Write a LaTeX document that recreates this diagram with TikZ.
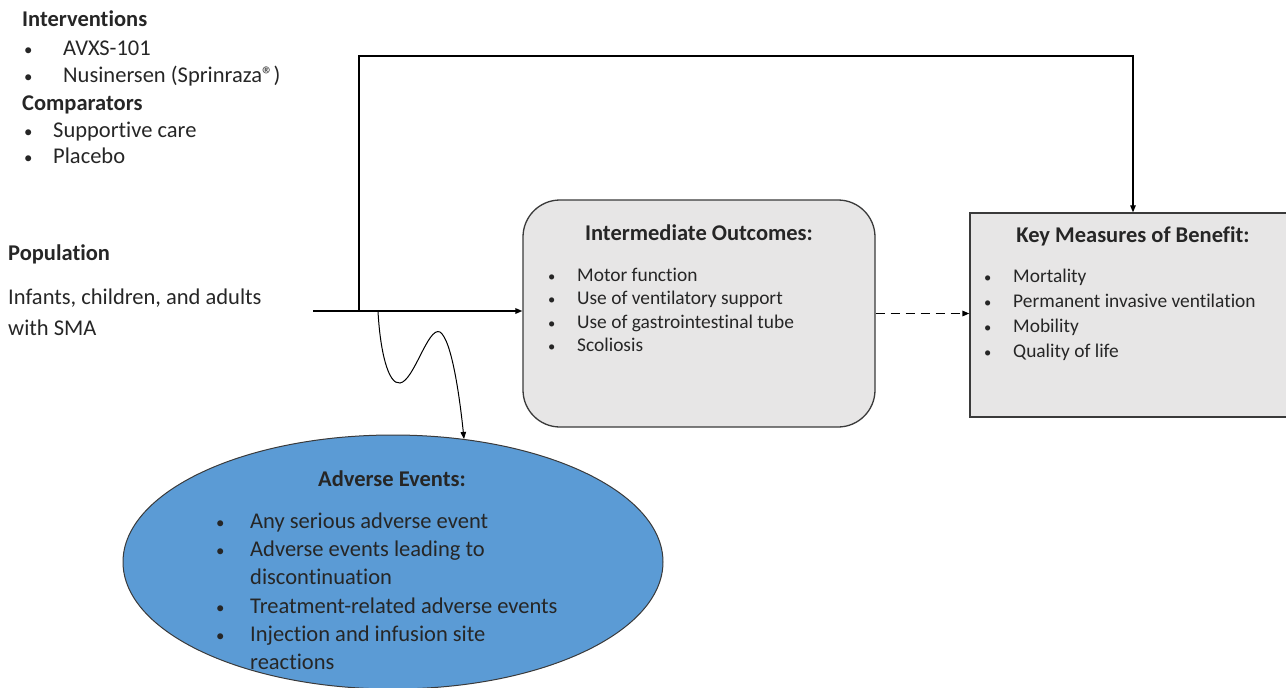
\documentclass[tikz,border=0pt]{standalone}
\usepackage{fontspec}
\setmainfont{Carlito}[Ligatures=NoCommon]
\usetikzlibrary{arrows.meta,shapes.geometric}
\definecolor{smaInk}{HTML}{262626}
\definecolor{smaEdge}{HTML}{3A3A3A}
\definecolor{smaGrey}{HTML}{E7E6E6}
\definecolor{smaBlue}{HTML}{5B9BD5}
\tikzset{
  sma text/.style={font=\fontsize{22.5}{27}\selectfont, text=smaInk, inner sep=0pt, anchor=base west},
  sma small/.style={sma text, font=\fontsize{19.4}{23}\selectfont},
  sma head/.style={sma text, font=\fontsize{22.5}{27}\selectfont\bfseries},
  sma title/.style={sma head, anchor=base},
  sma box/.style={draw=smaEdge, fill=smaGrey, line width=1.3pt},
  sma link/.style={draw=black, line width=1pt, -{Triangle[length=7pt,width=5.5pt]}},
}
\newcommand{\bul}[1]{\makebox[#1][l]{\scalebox{0.75}{\textbullet}}}

\begin{document}
\begin{tikzpicture}[x=1pt,y=-1pt]
  \useasboundingbox (0,0) rectangle (1286,688);
  % boxes
  \node[sma box, rounded corners=37pt, minimum width=352pt, minimum height=227pt] (io) at (699,313.5) {};
  \node[sma box, minimum width=320pt, minimum height=204pt] (km) at (1130,315) {};
  \node[ellipse, draw=smaEdge, fill=smaBlue, line width=1pt, minimum width=540pt, minimum height=254pt] (ae) at (393,562) {};
  % interventions, comparators, population
  \node[sma head] (iv) at (22,27) {Interventions};
  \node[sma text] (iv1) at (24,55) {\bul{39pt}AVXS-101};
  \node[sma text] (iv2) at (24,82) {\bul{39pt}Nusinersen (Sprinraza\textregistered)};
  \node[sma head] (cmp) at (22,110) {Comparators};
  \node[sma text] (cmp1) at (24,137) {\bul{29pt}Supportive care};
  \node[sma text] (cmp2) at (24,163) {\bul{29pt}Placebo};
  \node[sma head] (pop) at (8,260) {Population};
  \node[sma text] (pop1) at (8,304) {Infants, children, and adults};
  \node[sma text] (pop2) at (8,335) {with SMA};
  % intermediate outcomes
  \node[sma title] (iot) at (699,240) {Intermediate Outcomes:};
  \foreach \t [count=\i] in {Motor function, Use of ventilatory support, Use of gastrointestinal tube, Scoliosis}
    \node[sma small] (io\i) at (548,257.5+23.5*\i) {\bul{29pt}\t};
  % key measures
  \node[sma title] (kmt) at (1133,242) {Key Measures of Benefit:};
  \foreach \t [count=\i] in {Mortality, Permanent invasive ventilation, Mobility, Quality of life}
    \node[sma small] (km\i) at (984,257+25*\i) {\bul{29pt}\t};
  % adverse events
  \node[sma title] (aet) at (392,486) {Adverse Events:};
  \node[sma text] (ae1) at (216,528) {\bul{34pt}Any serious adverse event};
  \node[sma text] (ae2) at (216,556) {\bul{34pt}Adverse events leading to};
  \node[sma text] (ae2b) at (250,584) {discontinuation};
  \node[sma text] (ae3) at (216,613) {\bul{34pt}Treatment-related adverse events};
  \node[sma text] (ae4) at (216,641) {\bul{34pt}Injection and infusion site};
  \node[sma text] (ae4b) at (250,669) {reactions};
  % connectors
  \coordinate (popout) at (313,311);
  \coordinate (split) at (359,311);
  \coordinate (ridge) at (359,56);
  \coordinate (aestart) at (378,311);
  \draw[sma link, line width=1.6pt] (popout) -- (popout -| io.west);
  \draw[sma link, line width=1.2pt] (split) -- (ridge) -| ([xshift=3pt]km.north);
  \draw[sma link, line width=1.4pt, dash pattern=on 9pt off 6pt] (io.east) -- (io.east -| km.west);
  \draw[sma link] (aestart) .. controls (380,350) and (388,385) .. (400,383)
    .. controls (414,381) and (428,326) .. (440,332)
    .. controls (452,340) and (460,400) .. (ae.60);
\end{tikzpicture}
\end{document}
